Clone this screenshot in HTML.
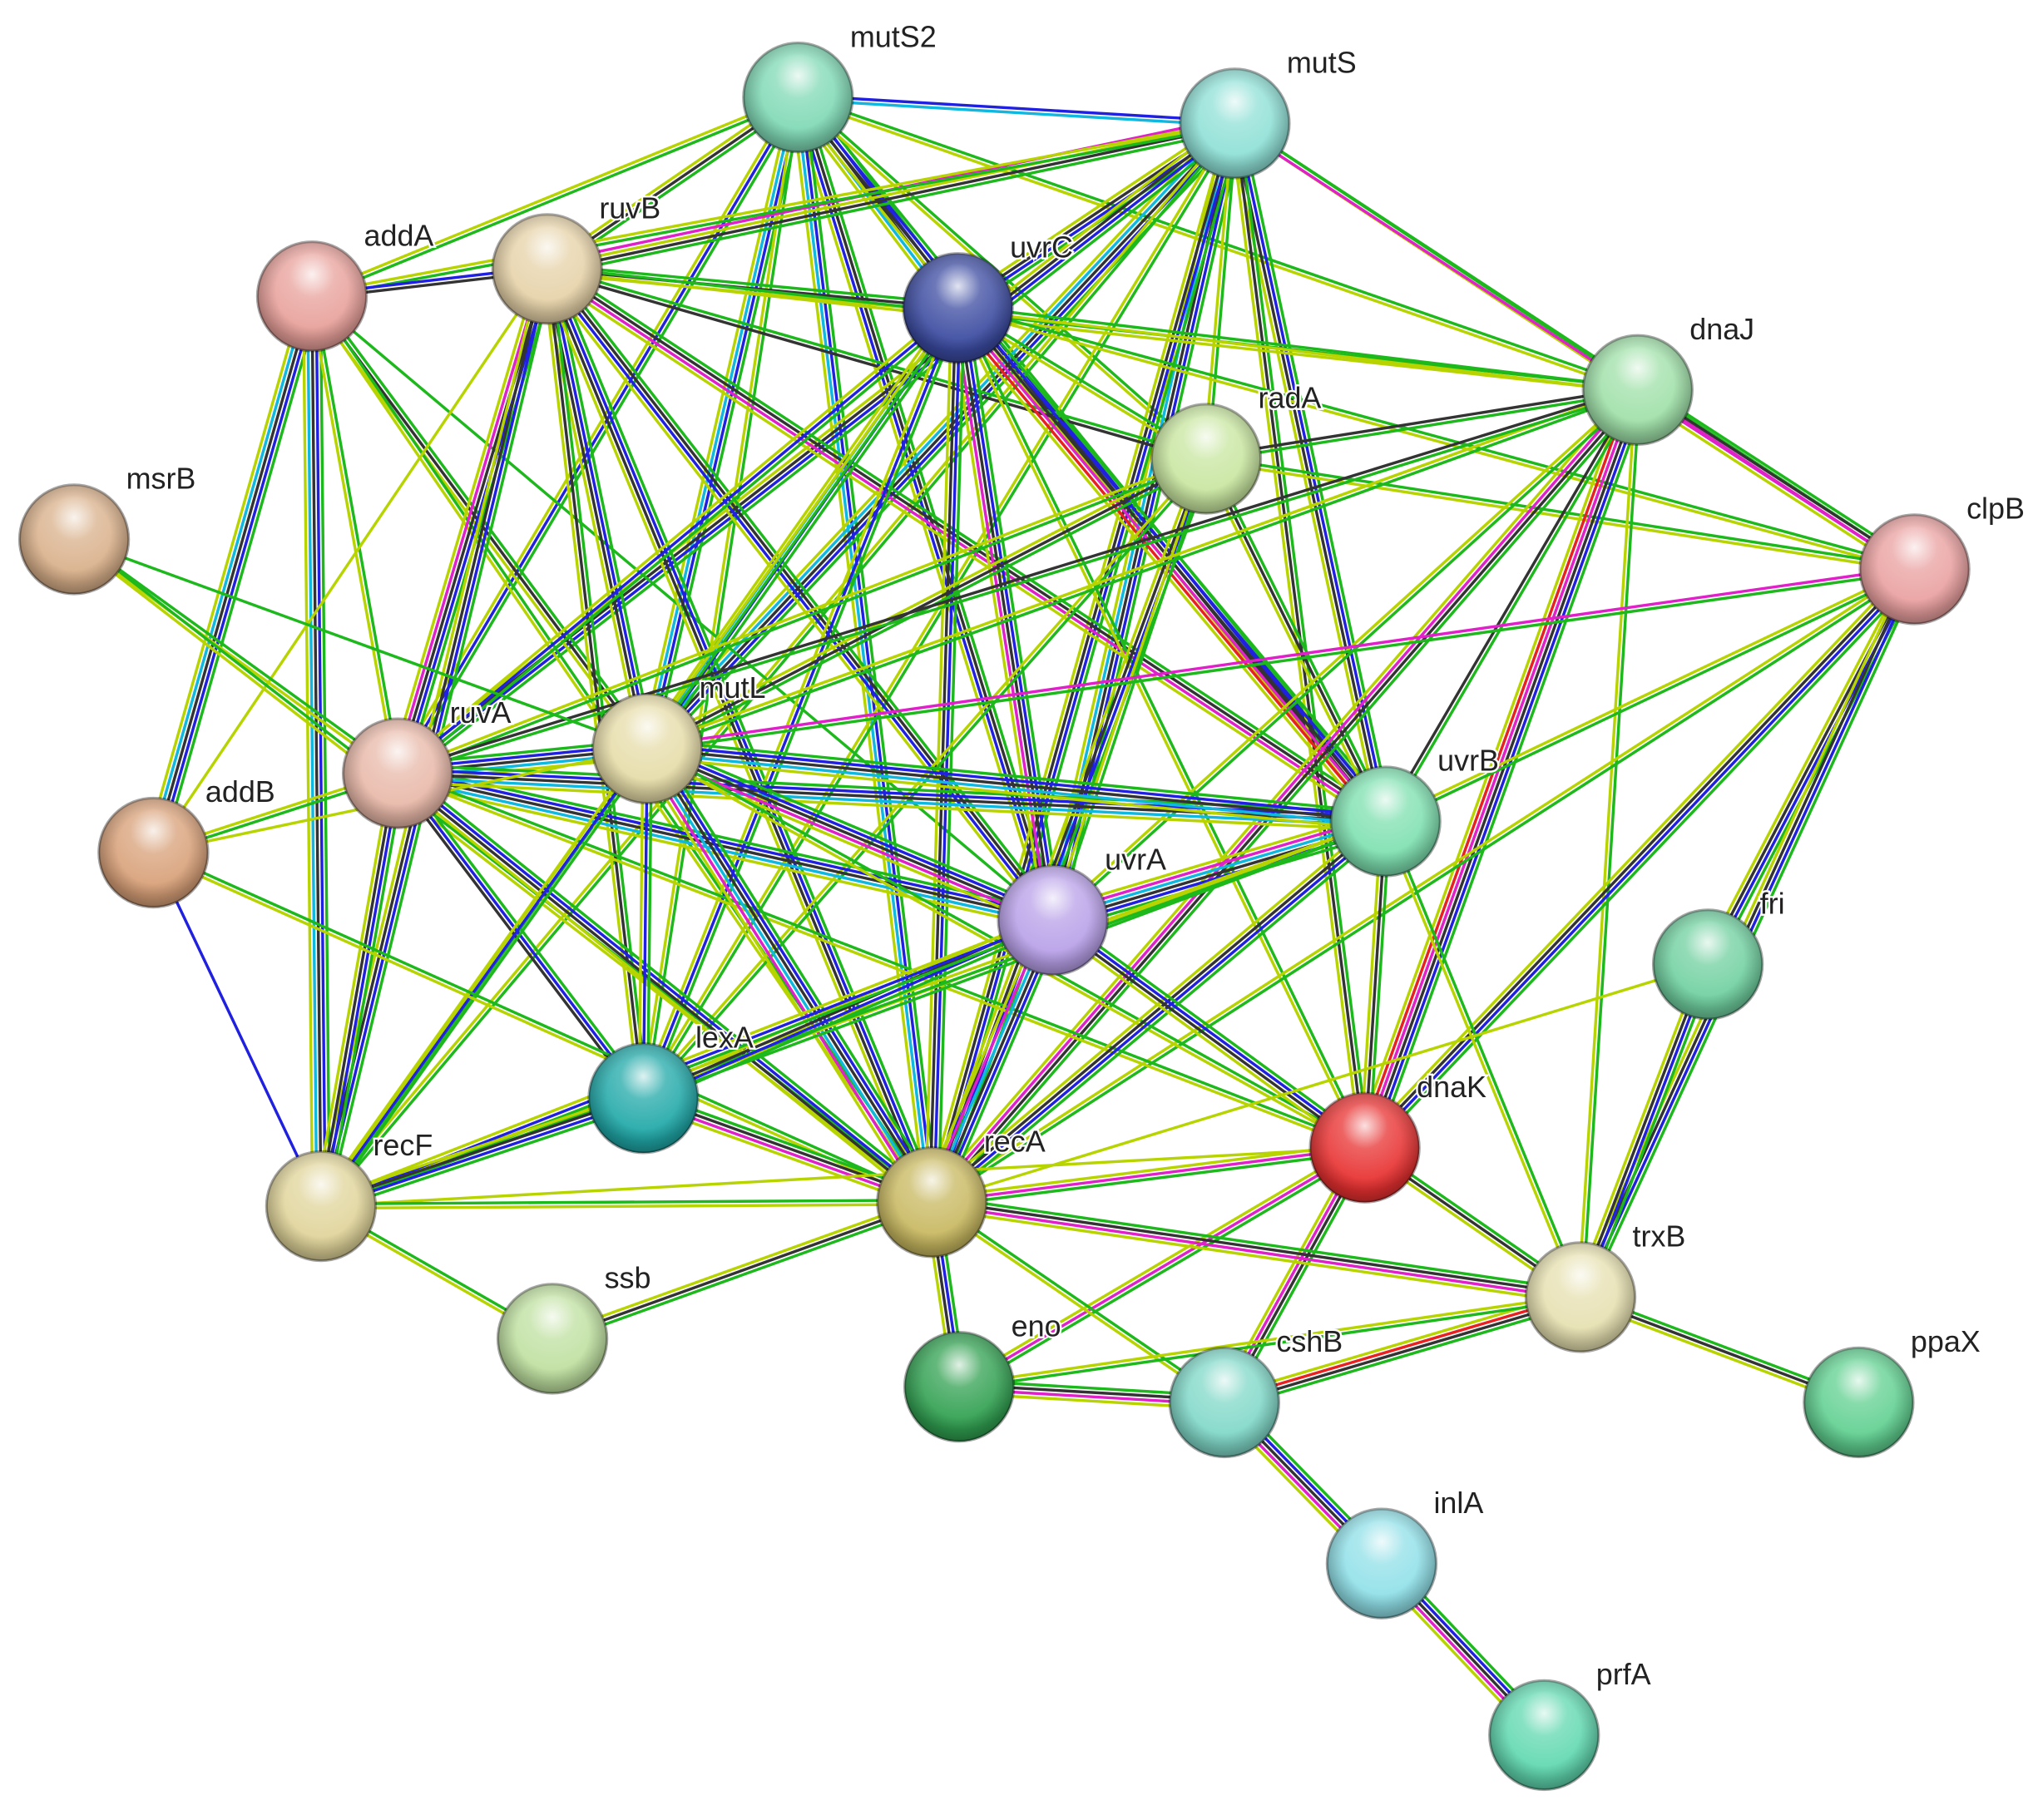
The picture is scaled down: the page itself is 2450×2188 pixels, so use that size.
<!DOCTYPE html>
<html><head><meta charset="utf-8"><style>
html,body{margin:0;padding:0;background:#fff;}
svg{display:block;}
text{font-family:"Liberation Sans",sans-serif;font-size:23px;fill:#222;}
</style></head><body>
<svg id="s" width="2450" height="2188" viewBox="0 0 1568 1400.3" xmlns="http://www.w3.org/2000/svg">
<defs>
<radialGradient id="sh" cx="0.5" cy="0.3" r="0.6">
<stop offset="0" stop-color="#fff" stop-opacity="0.85"/>
<stop offset="0.35" stop-color="#fff" stop-opacity="0.25"/>
<stop offset="1" stop-color="#fff" stop-opacity="0"/>
</radialGradient>
<radialGradient id="dk" cx="0.5" cy="0.45" r="0.55">
<stop offset="0.6" stop-color="#000" stop-opacity="0"/>
<stop offset="1" stop-color="#000" stop-opacity="0.35"/>
</radialGradient>
</defs>
<g id="edges"></g><g id="nodes"></g>
</svg>
<script>
var N={mutS2:[614,75,'#7fd9b5'],mutS:[950,95,'#8ee0d6'],addA:[240,228,'#e8a09a'],ruvB:[421,207,'#e6d2a8'],uvrC:[737,237,'#3a4aa0'],dnaJ:[1260,300,'#9fe0a8'],radA:[928,353,'#c8e6a0'],msrB:[57,415,'#d9b08a'],clpB:[1473,438,'#eaa0a0'],ruvA:[306,595,'#e8b8a8'],mutL:[498,576,'#e6dca8'],addB:[118,656,'#d8a078'],uvrB:[1066,632,'#7ee0b0'],uvrA:[810,708,'#b8a0e8'],fri:[1314,742,'#70d0a0'],lexA:[495,845,'#20a8a8'],dnaK:[1050,883,'#e83030'],recF:[247,928,'#e0d49a'],recA:[717,925,'#c8b860'],trxB:[1216,998,'#e6e0b0'],ssb:[425,1030,'#bfe0a0'],eno:[738,1067,'#30a050'],cshB:[942,1079,'#80d8c8'],ppaX:[1430,1079,'#60d090'],inlA:[1063,1203,'#90e0e8'],prfA:[1188,1335,'#60d8b0']};
var C={g:'#1cb81c',k:'#333333',b:'#2020e0',c:'#10b8e0',m:'#e020c8',y:'#b8d400',r:'#e82020'};
var E=`mutS2 mutS bc;mutS2 addA gy;mutS2 ruvB gky;mutS2 uvrC gbkcy;mutS2 mutL gbcy;mutS2 ruvA gby;mutS2 uvrA gkby;mutS2 uvrB gbky;mutS2 recA gbcy;mutS2 dnaJ gy;mutS2 radA gy;mutS2 lexA gy;
mutS uvrC gbky;mutS ruvB gkym;mutS addA gy;mutS mutL gbkcy;mutS ruvA gbky;mutS uvrA gbkcy;mutS uvrB gbky;mutS recA gbky;mutS dnaJ gy;mutS radA gy;mutS dnaK gky;mutS lexA gy;mutS recF gy;mutS clpB gm;
addA ruvB bk;addA addB gbkcy;addA recF gbkcy;addA ruvA gy;addA mutL gky;addA recA gy;addA uvrA g;
ruvB uvrC gky;ruvB ruvA gbkmy;ruvB mutL gbky;ruvB recA gbky;ruvB uvrB gkmy;ruvB uvrA gkby;ruvB recF gbky;ruvB lexA gky;ruvB radA gk;ruvB dnaJ gy;ruvB addB y;
uvrC uvrA gbkmy;uvrC uvrB gbkmry;uvrC mutL gbcy;uvrC ruvA gby;uvrC recA gbky;uvrC lexA gby;uvrC recF gy;uvrC dnaK gy;uvrC clpB gy;uvrC radA gy;uvrC dnaJ gy;
radA recA gbky;radA mutL gky;radA ruvA gy;radA uvrB gky;radA uvrA gy;radA dnaJ kg;radA clpB gy;radA lexA gy;
dnaJ clpB gkmy;dnaJ dnaK gbkmry;dnaJ uvrB gk;dnaJ recA gkmy;dnaJ uvrA gy;dnaJ mutL gy;dnaJ ruvA gk;dnaJ trxB gy;
clpB dnaK gbky;clpB fri gbky;clpB trxB gbky;clpB uvrB gy;clpB recA gy;clpB mutL gm;
msrB ruvA gy;msrB recA gy;msrB mutL g;
ruvA mutL gbkcy;ruvA addB gy;ruvA recF gbky;ruvA uvrA gbkcy;ruvA uvrB gbkcy;ruvA recA gbky;ruvA lexA gbk;ruvA dnaK gy;
mutL uvrA gbkmy;mutL uvrB gbkcy;mutL recA gbkcmy;mutL lexA gby;mutL recF gby;mutL addB y;mutL dnaK gy;
addB recF b;addB recA gy;uvrB uvrA gbkcmy;uvrB recA gbky;uvrB dnaK gky;uvrB trxB gy;uvrB lexA gy;uvrB recF gy;
uvrA recA gbkcmy;uvrA lexA gbky;uvrA dnaK gbky;uvrA recF gby;fri trxB gbky;fri recA y;
lexA recA gkmy;lexA recF gbky;dnaK recA gmy;dnaK trxB gky;dnaK cshB gkmy;dnaK eno gmy;dnaK recF y;
recF recA gy;recF ssb gy;recA ssb gky;recA eno gbky;recA trxB gkmy;recA cshB gy;trxB cshB gkry;trxB ppaX gky;trxB eno gy;
eno cshB gkmy;cshB inlA gbkmy;inlA prfA gbkmy`;
var ns='http://www.w3.org/2000/svg',eg=document.getElementById('edges'),ng=document.getElementById('nodes');
E.replace(/\n/g,'').split(';').forEach(function(s){s=s.trim();if(!s)return;var p=s.split(' ');var a=N[p[0]],b=N[p[1]],cs=p[2];
var dx=b[0]-a[0],dy=b[1]-a[1],L=Math.hypot(dx,dy),nx=-dy/L,ny=dx/L,sp=3.3,n=cs.length;
for(var i=0;i<n;i++){var o=(i-(n-1)/2)*sp;var l=document.createElementNS(ns,'line');
l.setAttribute('x1',a[0]+nx*o);l.setAttribute('y1',a[1]+ny*o);l.setAttribute('x2',b[0]+nx*o);l.setAttribute('y2',b[1]+ny*o);
l.setAttribute('stroke',C[cs[i]]);l.setAttribute('stroke-width',2.2);eg.appendChild(l);}});
for(var k in N){var v=N[k],r=42;
var c=document.createElementNS(ns,'circle');c.setAttribute('cx',v[0]);c.setAttribute('cy',v[1]);c.setAttribute('r',r);c.setAttribute('fill',v[2]);c.setAttribute('stroke','rgba(0,0,0,0.35)');c.setAttribute('stroke-width',2);ng.appendChild(c);
var d=document.createElementNS(ns,'circle');d.setAttribute('cx',v[0]);d.setAttribute('cy',v[1]);d.setAttribute('r',r);d.setAttribute('fill','url(#dk)');ng.appendChild(d);
var s=document.createElementNS(ns,'circle');s.setAttribute('cx',v[0]);s.setAttribute('cy',v[1]);s.setAttribute('r',r);s.setAttribute('fill','url(#sh)');ng.appendChild(s);
var t=document.createElementNS(ns,'text');t.setAttribute('x',v[0]+40);t.setAttribute('y',v[1]-39);t.textContent=k;
t.setAttribute('stroke','#fff');t.setAttribute('stroke-width','3');t.setAttribute('paint-order','stroke');ng.appendChild(t);}
</script>
</body></html>
